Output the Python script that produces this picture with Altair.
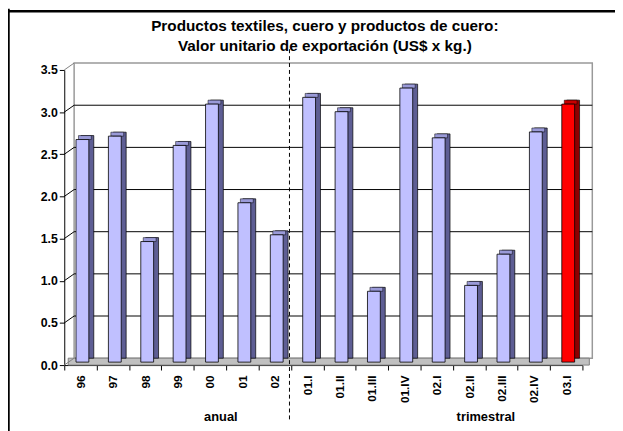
import altair as alt
import pandas as pd

categories = ["96", "97", "98", "99", "00", "01", "02",
              "01.I", "01.II", "01.III", "01.IV", "02.I", "02.II", "02.III", "02.IV", "03.I"]
values = [2.64, 2.68, 1.43, 2.57, 3.06, 1.89, 1.51,
          3.14, 2.97, 0.84, 3.25, 2.66, 0.91, 1.28, 2.73, 3.06]
highlight = [False] * 15 + [True]
grid_values = [0.5, 1.0, 1.5, 2.0, 2.5, 3.0]
edge_values = [0.0, 3.5]
tick_values = [0.0, 0.5, 1.0, 1.5, 2.0, 2.5, 3.0, 3.5]
group_labels = ["anual", "trimestral"]
group_anchor = ["00", "02.II"]
title_lines = ["Productos textiles, cuero y productos de cuero:",
               "Valor unitario de exportación (US$ x kg.)"]

FONT = "Liberation Sans"
W, H = 525, 299

df = pd.DataFrame({"cat": categories, "v": values})
df["front"] = ["#FF0000" if h else "#C0C0FF" for h in highlight]
df["side"] = ["#8E0000" if h else "#5E5E94" for h in highlight]
df["top"] = ["#C80000" if h else "#9A9AD8" for h in highlight]
grid_df = pd.DataFrame({"v": grid_values})
edge_df = pd.DataFrame({"v": edge_values})

x_scale = alt.Scale(domain=categories, paddingInner=0, paddingOuter=0)
y_scale = alt.Scale(domain=[0, 3.5], nice=False)

x_axis = alt.Axis(title=None, labelAngle=-90, labelFont=FONT, labelFontSize=12,
                  labelFontWeight="bold", labelColor="black", tickBand="extent",
                  tickSize=5, tickColor="black", domainColor="black",
                  labelPadding=5, labelBaseline="middle", labelAlign="right")
y_axis = alt.Axis(title=None, values=tick_values, format=".1f", labelFont=FONT,
                  labelFontSize=12.5, labelFontWeight="bold", labelColor="black",
                  tickSize=5, tickColor="black", domainColor="black", grid=False,
                  labelPadding=2)

def xe(**kw):
    return alt.X("cat:N", scale=x_scale, sort=categories, axis=x_axis, **kw)

def ye():
    return alt.Y("v:Q", scale=y_scale, axis=y_axis)

one = pd.DataFrame({"a": [0]})

# back wall
wall = alt.Chart(one).mark_rect(
    fill="white", stroke="#999999", strokeWidth=1.5
).encode(x=alt.value(10), x2=alt.value(535), y=alt.value(-7), y2=alt.value(292))

# floor
floor = alt.Chart(one).mark_rect(
    fill="#C0C0C0", stroke="#808080", strokeWidth=1
).encode(x=alt.value(4), x2=alt.value(532), y=alt.value(292), y2=alt.value(299))

# gridlines on back wall
grid = alt.Chart(grid_df).mark_rule(color="black", strokeWidth=1, yOffset=-7).encode(
    y=ye(), x=alt.value(10), x2=alt.value(535))

# diagonals on left wall
diag = alt.Chart(grid_df).mark_rule(color="black", strokeWidth=1, y2Offset=-7).encode(
    y=ye(), y2=alt.Y2("v"), x=alt.value(0), x2=alt.value(10))
diag_edge = alt.Chart(edge_df).mark_rule(color="#808080", strokeWidth=1, y2Offset=-7).encode(
    y=ye(), y2=alt.Y2("v"), x=alt.value(0), x2=alt.value(10))

base = alt.Chart(df)

side = base.mark_bar(size=13, xOffset=7, yOffset=-7, y2Offset=-7, stroke="black", strokeWidth=0.7).encode(
    x=xe(), y=ye(), y2=alt.datum(0), fill=alt.Fill("side:N", scale=None))

topface = base.mark_bar(size=13, xOffset=4.5, yOffset=-7, y2Offset=-3, stroke="black", strokeWidth=0.5).encode(
    x=xe(), y=ye(), y2=alt.Y2("v"), fill=alt.Fill("top:N", scale=None))

front = base.mark_bar(size=13, xOffset=2, yOffset=-3, y2Offset=-3, stroke="black", strokeWidth=0.8).encode(
    x=xe(), y=ye(), y2=alt.datum(0), fill=alt.Fill("front:N", scale=None))

divider = alt.Chart(pd.DataFrame({"cat": ["02"]})).mark_rule(
    color="black", strokeDash=[4, 3], strokeWidth=1, xOffset=-1.5
).encode(x=xe(bandPosition=1), y=alt.value(-21), y2=alt.value(357))

groups_a = alt.Chart(pd.DataFrame({"cat": [group_anchor[0]], "t": [group_labels[0]]})).mark_text(
    font=FONT, fontSize=13, fontWeight="bold", color="black", baseline="middle", align="center", dx=11
).encode(x=xe(), y=alt.value(352), text="t:N")
groups_b = alt.Chart(pd.DataFrame({"cat": [group_anchor[1]], "t": [group_labels[1]]})).mark_text(
    font=FONT, fontSize=13, fontWeight="bold", color="black", baseline="middle", align="center", dx=17
).encode(x=xe(), y=alt.value(352), text="t:N")

title1 = alt.Chart(pd.DataFrame({"t": [title_lines[0]]})).mark_text(
    font=FONT, fontSize=15.5, fontWeight="bold", color="black", baseline="middle", align="center"
).encode(x=alt.value(264), y=alt.value(-44), text="t:N")
title2 = alt.Chart(pd.DataFrame({"t": [title_lines[1]]})).mark_text(
    font=FONT, fontSize=15.5, fontWeight="bold", color="black", baseline="middle", align="center"
).encode(x=alt.value(264), y=alt.value(-24), text="t:N")

frame_top = alt.Chart(one).mark_rule(color="black", strokeWidth=2.5).encode(
    x=alt.value(-60), x2=alt.value(570), y=alt.value(-59.5))
frame_left = alt.Chart(one).mark_rule(color="black", strokeWidth=2.5).encode(
    x=alt.value(-56.5), y=alt.value(-62), y2=alt.value(380))

chart = alt.layer(
    wall, floor, grid, diag, diag_edge, side, topface, front, divider, groups_a, groups_b,
    title1, title2, frame_top, frame_left
).properties(
    width=W, height=H,
    autosize=alt.AutoSizeParams(type="none"),
    padding={"left": 57, "top": 60, "right": 33, "bottom": 64},
    background="white",
).configure_view(stroke=None)

chart.save("out.html", embed_options={"renderer": "svg", "actions": False})
